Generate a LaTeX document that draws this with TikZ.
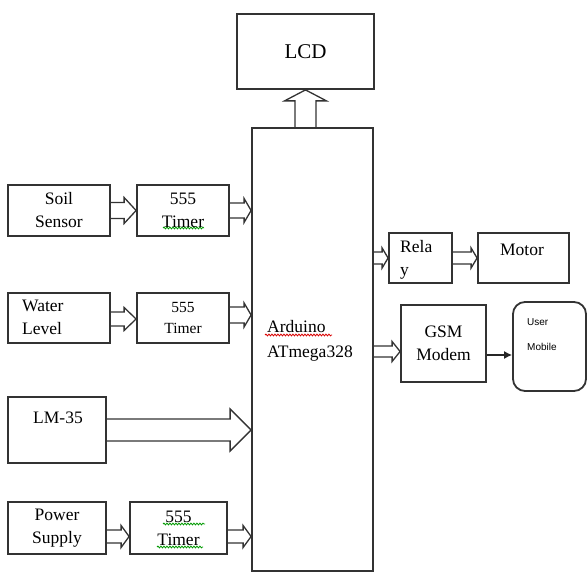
\documentclass[tikz,border=0pt]{standalone}
\usepackage{fontspec}
\setmainfont{Liberation Serif}
\newfontfamily\smallsans{Liberation Sans}
\usetikzlibrary{arrows.meta,calc,decorations.pathmorphing}

% hollow block arrow: from, to, shaft half width, head half width, head length
\newcommand{\fatarrow}[5]{%
  \path (#1) coordinate (fa-s) (#2) coordinate (fa-t);
  \path ($(fa-t)!#5!(fa-s)$) coordinate (fa-h);
  \draw[fatline]
    ($(fa-s)!#3!90:(fa-t)$) -- ($(fa-h)!#3!90:(fa-t)$)
    -- ($(fa-h)!#4!90:(fa-t)$) -- (fa-t)
    -- ($(fa-h)!#4!-90:(fa-t)$) -- ($(fa-h)!#3!-90:(fa-t)$)
    -- ($(fa-s)!#3!-90:(fa-t)$);
}

\begin{document}
\begin{tikzpicture}[
  x=1pt,y=-1pt,
  font=\fontsize{17.5}{23}\selectfont,
  blk/.style={draw=black!80,line width=1.8pt,align=center,inner sep=0pt},
  txt/.style={inner sep=0pt,align=left},
  fatline/.style={draw=black!80,line width=1.3pt,line join=miter},
  spell/.style={decorate,decoration={snake,amplitude=0.9pt,segment length=3pt},line width=0.8pt}
]
\useasboundingbox (0,0) rectangle (587,572);

% ---- controller and display ----
\node[blk,minimum width=137pt,minimum height=75pt,font=\fontsize{21}{25}\selectfont] (lcd) at (305.5,51.5) {LCD};
\node[blk,minimum width=121pt,minimum height=443pt] (ard) at (312.5,349.5) {};
\node[txt] (ardtxt) at (267,340.5) [anchor=west] {Arduino\\[2pt]ATmega328};

% ---- input side ----
\node[blk,minimum width=102pt,minimum height=51pt] (soil) at (59,210.5) {Soil\\Sensor};
\node[blk,minimum width=92pt,minimum height=51pt] (tim1) at (183,210.5) {555\\Timer};

\node[blk,minimum width=102pt,minimum height=50pt] (water) at (59,318) {};
\node[txt,anchor=west] (watertxt) at (22,317) {Water\\Level};
\node[blk,minimum width=92pt,minimum height=50pt,font=\fontsize{15.5}{21}\selectfont] (tim2) at (183,318) {555\\Timer};

\node[blk,minimum width=98pt,minimum height=66pt] (lm) at (57,430) {};
\node[txt] (lmtxt) at (58,418) {LM-35};

\node[blk,minimum width=98pt,minimum height=52pt] (power) at (57,528) {Power\\Supply};
\node[blk,minimum width=97pt,minimum height=52pt] (tim3) at (178.5,528) {555\\Timer};

% ---- output side ----
\node[blk,minimum width=63pt,minimum height=50pt] (relay) at (420.5,258) {};
\node[txt,anchor=west] (relaytxt) at (400,259.5) {Rela\\y};
\node[blk,minimum width=91pt,minimum height=50pt] (motor) at (523.5,258) {};
\node[txt] (motortxt) at (522,250) {Motor};

\node[blk,minimum width=85pt,minimum height=77pt] (gsm) at (443.5,343.5) {GSM\\Modem};
\node[blk,rounded corners=12pt,minimum width=73pt,minimum height=89pt] (user) at (549.5,346.5) {};
\node[txt,anchor=west,font=\smallsans\fontsize{10}{25}\selectfont] (usertxt) at (527,334.5) {User\\Mobile};

% ---- hollow arrows ----
\coordinate (soilout) at (soil.east);
\coordinate (waterout) at ([yshift=-1pt]water.east);
\coordinate (psout) at ([yshift=-8.5pt]power.east);
\coordinate (t2out) at ([yshift=3pt]tim2.east);
\coordinate (ardrelay) at (relay.west -| ard.east);
\coordinate (ardgsm) at ([yshift=-8pt]gsm.west -| ard.east);
\coordinate (ardtop) at (lcd.south |- ard.north);

\fatarrow{soilout}{soilout -| tim1.west}{8pt}{13pt}{12pt}
\fatarrow{tim1.east}{tim1.east -| ard.west}{7.5pt}{12pt}{7pt}
\fatarrow{waterout}{waterout -| tim2.west}{7pt}{11.5pt}{12pt}
\fatarrow{t2out}{t2out -| ard.west}{8pt}{12pt}{7pt}
\fatarrow{lm.east}{lm.east -| ard.west}{11pt}{21pt}{21pt}
\fatarrow{psout}{psout -| tim3.west}{6.5pt}{11pt}{8pt}
\fatarrow{psout -| tim3.east}{psout -| ard.west}{6.5pt}{11pt}{8pt}
\fatarrow{ardrelay}{relay.west}{6pt}{10pt}{6pt}
\fatarrow{relay.east}{motor.west}{6pt}{10pt}{6pt}
\fatarrow{ardgsm}{ardgsm -| gsm.west}{5.5pt}{10pt}{8pt}
\fatarrow{ardtop}{lcd.south}{10.5pt}{21pt}{11pt}

% ---- plain arrow to phone ----
\coordinate (gsmout) at ([yshift=-11.5pt]gsm.east);
\draw[-{Latex[length=8pt,width=8pt]},line width=1.3pt,black!85] (gsmout) -- (gsmout -| user.west);

% ---- spell-check marks ----
\draw[spell,green!60!black] (163,228) -- (204,228);
\draw[spell,red!85!black] (265,335) -- (332,335);
\draw[spell,green!60!black] (163,524) -- (205,524);
\draw[spell,green!60!black] (157,547) -- (203,547);

\end{tikzpicture}
\end{document}
